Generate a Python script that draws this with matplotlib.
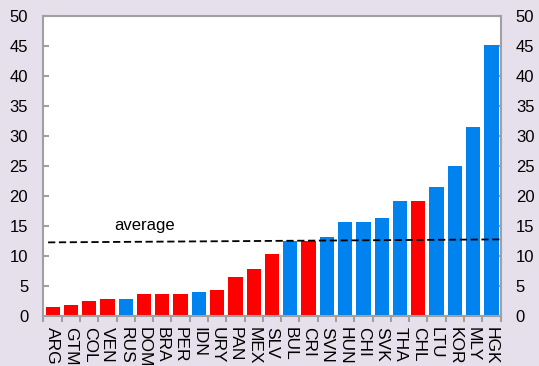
import numpy as np
import matplotlib
matplotlib.use("Agg")
import matplotlib.pyplot as plt

countries = ["ARG", "GTM", "COL", "VEN", "RUS", "DOM", "BRA", "PER", "IDN",
             "URY", "PAN", "MEX", "SLV", "BUL", "CRI", "SVN", "HUN", "CHI",
             "SVK", "THA", "CHL", "LTU", "KOR", "MLY", "HGK"]
values = [1.5, 1.8, 2.5, 2.9, 2.9, 3.7, 3.7, 3.7, 4.0, 4.3, 6.5, 7.8, 10.3,
          12.4, 12.4, 13.1, 15.6, 15.6, 16.3, 19.1, 19.1, 21.5, 25.0, 31.4, 45.1]
groups = ["r", "r", "r", "r", "b", "r", "r", "r", "b", "r", "r", "r", "r",
          "b", "r", "b", "b", "b", "b", "b", "r", "b", "b", "b", "b"]
avg_start = 12.25
avg_end = 12.75
yticks = [0, 5, 10, 15, 20, 25, 30, 35, 40, 45, 50]

RED = "#FF0000"
BLUE = "#0083EF"
BG = "#E6E0EC"
GREY = "#A0A0A0"

plt.rcParams['font.family'] = ['Liberation Sans', 'DejaVu Sans']

fig = plt.figure(figsize=(5.39, 3.66), dpi=100, facecolor=BG)
ax = fig.add_axes([0.0807, 0.1366, 0.848, 0.821])
ax.set_facecolor("white")

n = len(countries)
x = np.arange(n)
colors = [RED if g == "r" else BLUE for g in groups]
ax.bar(x, values, width=0.78, color=colors, zorder=2)

# average line (slightly tilted as in the original)
ax.plot([-0.25, n - 0.5], [avg_start, avg_end], color="black",
        linestyle=(0, (4, 2)), linewidth=1.3, zorder=3)
ax.text(5.05, 15.1, "average", fontsize=12, va="center", ha="center")

ax.set_xlim(-0.5, n - 0.5)
ax.set_ylim(0, 50)
ax.set_yticks(yticks)
ax.tick_params(axis="y", direction="in", left=True, right=True,
               labelleft=True, labelright=True, length=4, width=1.5,
               color=GREY, labelsize=12, pad=11)

ax.set_xticks(x)
ax.set_xticklabels(countries, rotation=270, fontsize=12.5)
ax.set_xticks(np.arange(-0.5, n, 1.0), minor=True)
ax.tick_params(axis="x", which="major", length=0, pad=8)
ax.tick_params(axis="x", which="minor", direction="out", length=4,
               width=1.5, color=GREY)

for s in ax.spines.values():
    s.set_color(GREY)
    s.set_linewidth(1.5)

fig.savefig("out.png", dpi=100, facecolor=BG)
